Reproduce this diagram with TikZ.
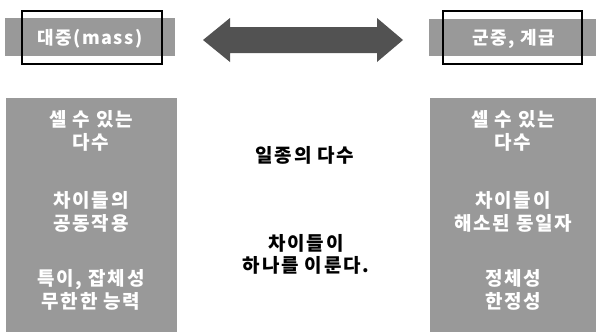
\documentclass[tikz,border=0pt]{standalone}
\usepackage{fontspec}
\setmainfont{Noto Sans CJK KR}
\begin{document}
\begin{tikzpicture}[x=1bp,y=-1bp,
  graybox/.style={fill=black!40,draw=none},
  hdrband/.style={fill=black!40,draw=none},
  hdrframe/.style={draw=black,line width=2.6bp},
  htxt/.style={text=white,font=\fontsize{18bp}{22bp}\selectfont\bfseries\addfontfeatures{LetterSpace=8},align=center,inner sep=0},
  wtxt/.style={text=white,font=\fontsize{19bp}{23bp}\selectfont\bfseries\addfontfeatures{LetterSpace=9},align=center,inner sep=0},
  btxt/.style={text=black,font=\fontsize{19bp}{22bp}\selectfont\bfseries\addfontfeatures{LetterSpace=9},align=center,inner sep=0}]
\useasboundingbox (0,0) rectangle (596,332);
% headers
\fill[hdrband] (5,18) rectangle (175,56);
\draw[hdrframe] (22,11) rectangle (162,64);
\node[htxt] (mass) at (90,39) {대중(mass)};
\fill[hdrband] (429,19) rectangle (596,56);
\draw[hdrframe] (443,11) rectangle (582,64);
\node[htxt] (crowd) at (514,39) {군중, 계급};
% double arrow
\fill[black!68] (203,40) -- (230,18) -- (230,27) -- (377,27) -- (377,18) -- (403,40)
  -- (377,62) -- (377,53) -- (230,53) -- (230,62) -- cycle;
% side boxes
\fill[graybox] (6,98) rectangle (177,332);
\fill[graybox] (430,98) rectangle (596,332);
\node[wtxt] (l1) at (91,131) {셀 수 있는\\다수};
\node[wtxt] (l2) at (91,212) {차이들의\\공동작용};
\node[wtxt] (l3) at (91,290) {특이, 잡체성\\무한한 능력};
\node[wtxt] (r1) at (513,131) {셀 수 있는\\다수};
\node[wtxt] (r2) at (513,212) {차이들이\\해소된 동일자};
\node[wtxt] (r3) at (513,290) {정체성\\한정성};
% centre
\node[btxt] (c1) at (305,155) {일종의 다수};
\node[btxt] (c2) at (306,254) {차이들이\\하나를 이룬다.};
\end{tikzpicture}
\end{document}
